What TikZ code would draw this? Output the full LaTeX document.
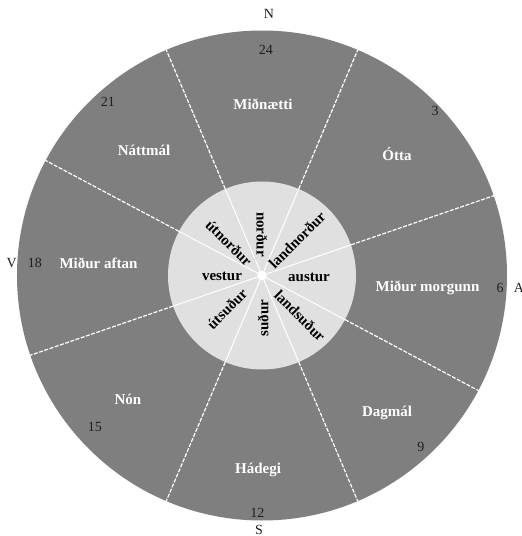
\documentclass[tikz,border=0pt]{standalone}
\usepackage{fontspec}
\setmainfont{Liberation Serif}
\definecolor{outergray}{HTML}{7F7F7F}
\definecolor{innergray}{HTML}{E0E0E0}
\definecolor{numcol}{HTML}{1E1E1E}
\begin{document}
\begin{tikzpicture}[x=1pt,y=1pt,
  sect/.style={font=\fontsize{15}{15}\selectfont\bfseries, text=white, inner sep=0pt},
  num/.style={font=\fontsize{14}{14}\selectfont, text=numcol, inner sep=0pt},
  compass/.style={font=\fontsize{14}{14}\selectfont, text=numcol, inner sep=0pt},
  dirlab/.style={font=\fontsize{15}{15}\selectfont\bfseries, text=black, inner sep=0pt},
  divout/.style={white, line width=1.2pt, dash pattern=on 4pt off 1.5pt},
  divin/.style={white, line width=1pt}]
\useasboundingbox (-262,-260.5) rectangle (260,275.5);
\fill[white] (-262,-260.5) rectangle (260,275.5);
\node[circle, fill=outergray, minimum size=490pt, inner sep=0pt] (outer) at (0,0) {};
\node[circle, fill=innergray, minimum size=188pt, inner sep=0pt] (inner) at (0,0) {};
\node[circle, fill=white, minimum size=10pt, inner sep=0pt] (hub) at (0,0) {};
\foreach \a in {19.5,67.5,113.5,152.5,199.5,247.5,293,332} {
  \draw[divin] (hub.\a) -- (inner.\a);
  \draw[divout] (inner.\a) -- (outer.\a);
}
% sector names
\node[sect] (midnaetti) at (1,171.5) {Miðnætti};
\node[sect] (otta) at (135,121.5) {Ótta};
\node[sect] (midurmorgunn) at (165.5,-12.5) {Miður morgunn};
\node[sect] (dagmal) at (125,-137.5) {Dagmál};
\node[sect] (hadegi) at (-4,-194.5) {Hádegi};
\node[sect] (non) at (-134,-123.5) {Nón};
\node[sect] (miduraftan) at (-163.5,12.5) {Miður aftan};
\node[sect] (nattmal) at (-118,125.5) {Náttmál};
% hours
\node[num] (h24) at (4,225.5) {24};
\node[num] (h3) at (173,164.5) {3};
\node[num] (h6) at (238,-12.5) {6};
\node[num] (h9) at (159,-171.5) {9};
\node[num] (h12) at (-4.5,-237.5) {12};
\node[num] (h15) at (-167,-151.5) {15};
\node[num] (h18) at (-227,12.5) {18};
\node[num] (h21) at (-154,173.5) {21};
% compass
\node[compass] (cN) at (7,262) {N};
\node[compass] (cS) at (-3,-254) {S};
\node[compass] (cV) at (-250.3,12.5) {V};
\node[compass] (cA) at (257,-12.5) {A};
% directions
\node[dirlab] (nordur) at (0,41) [rotate=-90] {norður};
\node[dirlab] (sudur) at (1,-42.5) [rotate=90] {suður};
\node[dirlab] (vestur) at (-40,-0.5) {vestur};
\node[dirlab] (austur) at (47,-1.5) {austur};
\node[dirlab] (utnordur) at (-33,32.5) [rotate=-45] {útnorður};
\node[dirlab] (landnordur) at (35,35.5) [rotate=45] {landnorður};
\node[dirlab] (utsudur) at (-35,-33.5) [rotate=45] {útsuður};
\node[dirlab] (landsudur) at (38,-40.5) [rotate=-45] {landsuður};
\end{tikzpicture}
\end{document}
